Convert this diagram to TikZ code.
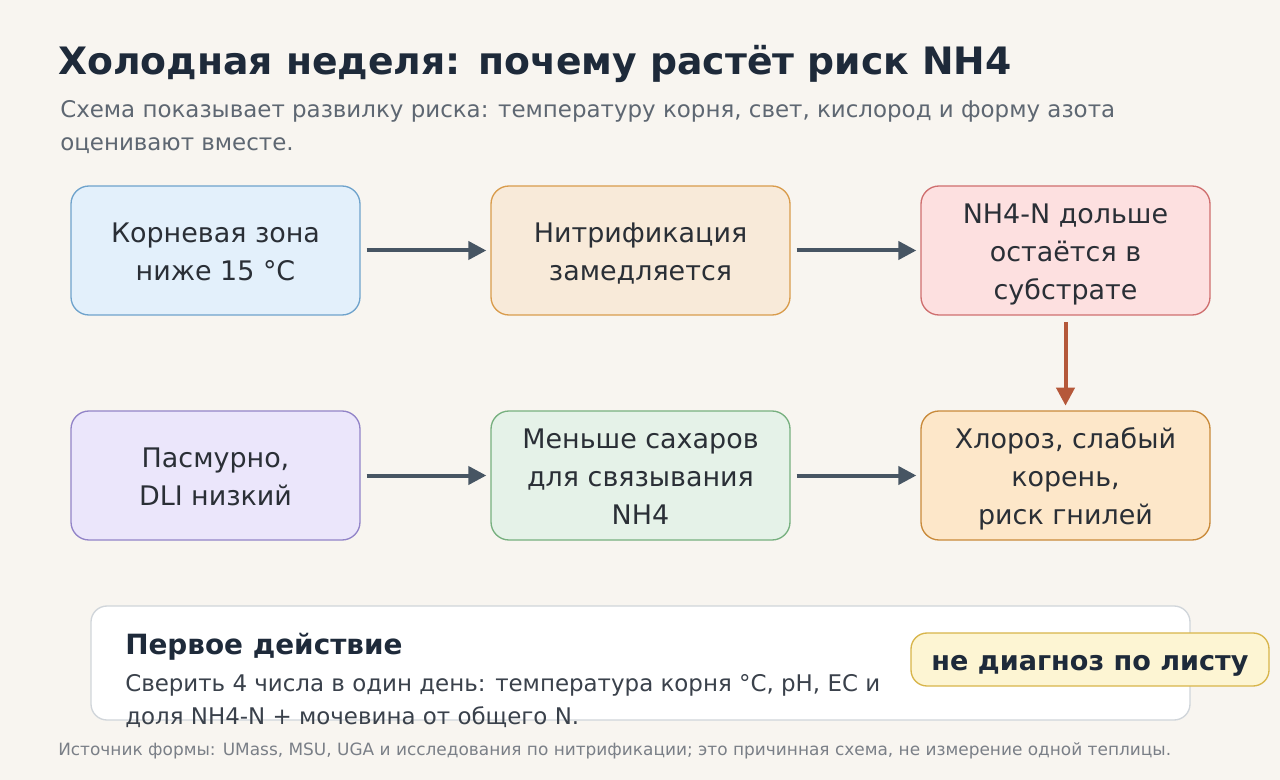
\documentclass[tikz,border=0pt]{standalone}
\usepackage{fontspec}
\setmainfont{DejaVu Sans}
\usetikzlibrary{arrows.meta}
\definecolor{bg}{HTML}{F8F5F0}
\definecolor{titlec}{HTML}{1E2A3A}
\definecolor{subc}{HTML}{5E6772}
\definecolor{txt}{HTML}{2A2F36}
\definecolor{bodyc}{HTML}{3A414B}
\definecolor{arr}{HTML}{475563}
\definecolor{arrb}{HTML}{B5583A}
\definecolor{f1}{HTML}{E3F0FB}\definecolor{d1}{HTML}{6FA3CC}
\definecolor{f2}{HTML}{F8EAD9}\definecolor{d2}{HTML}{D99C4C}
\definecolor{f3}{HTML}{FDE0E0}\definecolor{d3}{HTML}{CF6F6F}
\definecolor{f4}{HTML}{EBE6FB}\definecolor{d4}{HTML}{9284C8}
\definecolor{f5}{HTML}{E5F2E8}\definecolor{d5}{HTML}{77B07F}
\definecolor{f6}{HTML}{FDE7C9}\definecolor{d6}{HTML}{C98A3A}
\definecolor{panelb}{HTML}{D0D5DA}
\definecolor{badgef}{HTML}{FDF5D3}\definecolor{badged}{HTML}{D8B54A}
\definecolor{footc}{HTML}{7A7F87}
\newcommand\boxtext[1]{\rule{0pt}{22pt}#1\rule[-5pt]{0pt}{5pt}}
\tikzset{
  x=0.75pt, y=-0.75pt,
  flow/.style={draw, line width=1pt, rounded corners=13.5pt, align=center,
    text=txt, minimum height=96.75pt, inner sep=0pt,
    font=\fontsize{20.2}{28.5}\selectfont},
  narrow/.style={minimum width=216.75pt},
  wide/.style={minimum width=224.25pt},
  conn/.style={draw=arr, line width=3pt, -{Triangle[length=13.5pt,width=13.5pt]},
    shorten <=4.5pt, shorten >=3pt},
  connb/.style={draw=arrb, line width=3pt, -{Triangle[length=13.5pt,width=13.5pt]},
    shorten <=5pt, shorten >=3.5pt},
}
\begin{document}
\begin{tikzpicture}
\useasboundingbox[fill=bg] (0,0) rectangle (1280,780);
\node[anchor=base west, inner sep=0pt, text=titlec, font=\fontsize{28.3}{32}\selectfont\bfseries] (title) at (58,75) {Холодная неделя: почему растёт риск NH4};
\node[anchor=base west, text=subc, align=left, inner sep=0pt, font=\fontsize{17.2}{24.75}\selectfont] (sub) at (60,151) {Схема показывает развилку риска: температуру корня, свет, кислород и форму азота\\оценивают вместе.};

\node[flow, narrow, fill=f1, draw=d1] (b1) at (215.5,250.5) {\boxtext{Корневая зона\\ниже 15 °C}};
\node[flow, wide, fill=f2, draw=d2] (b2) at (640.5,250.5) {\boxtext{Нитрификация\\замедляется}};
\node[flow, narrow, fill=f3, draw=d3] (b3) at (1065.5,250.5) {\boxtext{NH4-N дольше\\остаётся в\\субстрате}};
\node[flow, narrow, fill=f4, draw=d4] (b4) at (215.5,475.5) {\boxtext{Пасмурно,\\DLI низкий}};
\node[flow, wide, fill=f5, draw=d5] (b5) at (640.5,475.5) {\boxtext{Меньше сахаров\\для связывания\\NH4}};
\node[flow, narrow, fill=f6, draw=d6] (b6) at (1065.5,475.5) {\boxtext{Хлороз, слабый\\корень,\\риск гнилей}};

\draw[conn] (b1) -- (b2);
\draw[conn] (b2) -- (b3);
\draw[conn] (b4) -- (b5);
\draw[conn] (b5) -- (b6);
\draw[connb] (b3) -- (b6);

\node[draw=panelb, fill=white, line width=1pt, rounded corners=12pt, minimum width=824.25pt, minimum height=85.5pt, inner sep=0pt] (panel) at (640.5,663) {};
\node[anchor=base west, text=titlec, inner sep=0pt, font=\fontsize{20.9}{24}\selectfont\bfseries] (ptitle) at (125,654) {Первое действие};
\node[anchor=base west, text=bodyc, align=left, inner sep=0pt, font=\fontsize{17.2}{24.4}\selectfont] (pbody) at (125,724) {Сверить 4 числа в один день: температура корня °C, pH, EC и\\доля NH4-N + мочевина от общего N.};
\node[draw=badged, fill=badgef, line width=1pt, rounded corners=12pt, minimum width=268.5pt, minimum height=39.75pt, inner sep=0pt, text=titlec, font=\fontsize{20.3}{24}\selectfont\bfseries] (badge) at (1090,659.5) {\rule{0pt}{20.8pt}не диагноз по листу\rule[-5pt]{0pt}{5pt}};

\node[anchor=base west, text=footc, inner sep=0pt, font=\fontsize{12.7}{15}\selectfont] (foot) at (58,755) {Источник формы: UMass, MSU, UGA и исследования по нитрификации; это причинная схема, не измерение одной теплицы.};
\end{tikzpicture}
\end{document}
